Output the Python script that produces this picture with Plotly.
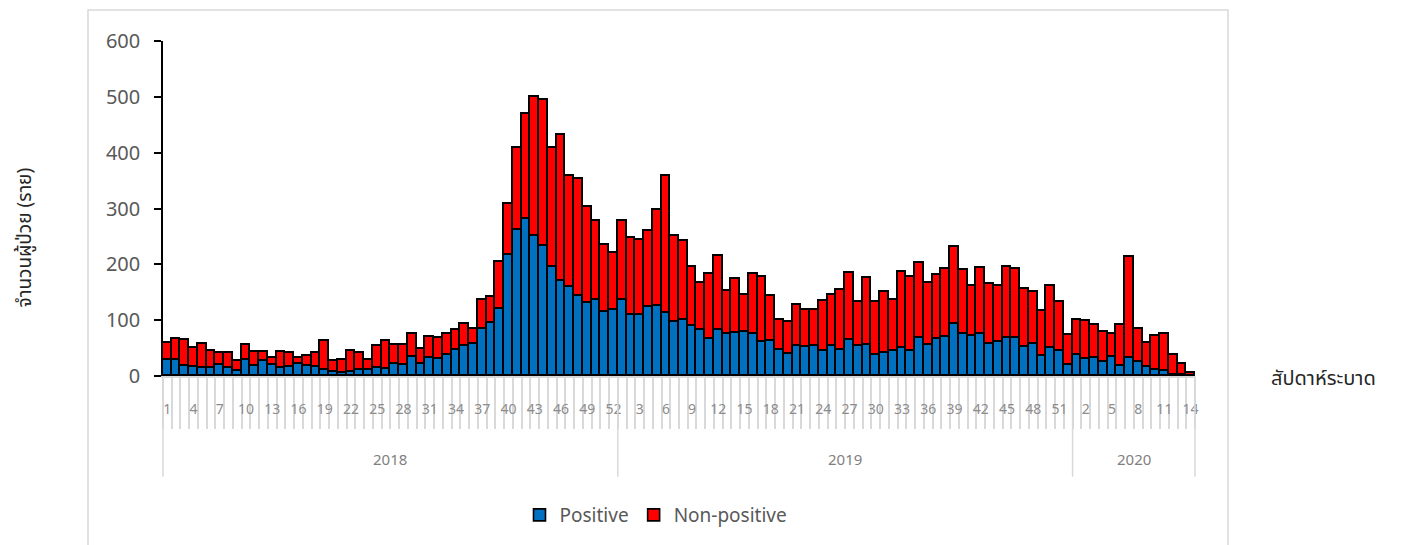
import plotly.graph_objects as go

years = ["2018", "2019", "2020"]
weeks_2018 = list(range(1, 53))
weeks_2019 = list(range(1, 53))
weeks_2020 = list(range(1, 15))

positive_2018 = [29, 29, 18, 17, 15, 14, 20, 15, 9, 28, 18, 27, 19, 15, 17, 22, 18, 17, 11, 8,
                 6, 8, 10, 10, 15, 12, 21, 20, 34, 21, 33, 30, 37, 47, 53, 58, 85, 95, 120, 217,
                 262, 282, 250, 232, 195, 171, 159, 143, 131, 136, 114, 118]
nonpositive_2018 = [31, 37, 47, 34, 42, 30, 21, 27, 17, 27, 25, 16, 13, 28, 24, 11, 18, 24, 51, 19,
                    23, 37, 32, 18, 39, 51, 34, 36, 41, 27, 37, 38, 39, 35, 41, 26, 52, 47, 85, 91,
                    147, 188, 249, 263, 213, 260, 199, 210, 171, 142, 121, 102]
positive_2019 = [136, 109, 109, 123, 126, 112, 97, 100, 89, 82, 66, 83, 76, 77, 79, 76, 61, 62, 46, 39,
                 54, 52, 53, 45, 53, 46, 64, 53, 55, 38, 41, 44, 51, 45, 68, 55, 66, 69, 94, 75,
                 71, 76, 58, 61, 68, 68, 52, 58, 36, 51, 45, 20]
nonpositive_2019 = [142, 138, 135, 137, 171, 247, 153, 142, 106, 84, 117, 132, 77, 96, 66, 106, 117, 82, 54, 58,
                    74, 67, 66, 90, 92, 108, 120, 80, 120, 94, 110, 92, 135, 133, 135, 112, 115, 123, 137, 115,
                    90, 117, 107, 100, 128, 123, 104, 93, 81, 110, 88, 54]
positive_2020 = [37, 31, 32, 25, 34, 18, 33, 25, 16, 10, 9, 2, 1, 0]
nonpositive_2020 = [63, 68, 60, 54, 42, 74, 180, 60, 44, 61, 67, 35, 20, 5]

y_ticks = [0, 100, 200, 300, 400, 500, 600]

week_groups = [weeks_2018, weeks_2019, weeks_2020]
weeks = weeks_2018 + weeks_2019 + weeks_2020
positive = positive_2018 + positive_2019 + positive_2020
nonpositive = nonpositive_2018 + nonpositive_2019 + nonpositive_2020
n = len(weeks)
xidx = list(range(n))

BLUE = "#0070C0"
RED = "#FF0000"
GRID = "#D9D9D9"
FONT = "Noto Sans, Open Sans, sans-serif"
THAI = "Noto Sans Thai, Noto Sans, sans-serif"

# page body has an 8px margin; plot area is kept at x 163..1195, y 41..377 in the window
PW, PH = 1032.0, 336.0
OX, OY = 163.0, 377.0

def pxx(x):
    return (x - OX) / PW

def pxy(y):
    return (OY - y) / PH

fig = go.Figure()
fig.add_trace(go.Bar(x=xidx, y=positive, name="Positive",
                     marker=dict(color=BLUE, line=dict(color="#000000", width=1.6))))
fig.add_trace(go.Bar(x=xidx, y=nonpositive, name="Non-positive",
                     marker=dict(color=RED, line=dict(color="#000000", width=1.6))))

# label every third week
tickvals = [i for i in xidx if i % 3 == 0]
ticktext = [str(weeks[i]) for i in tickvals]

shapes = []
annotations = []
start = 0
bounds = [0]
for yr, wk in zip(years, week_groups):
    end = start + len(wk)
    annotations.append(dict(x=(start + end) / 2 / n, y=pxy(460), xref="paper", yref="paper",
                            text=yr, showarrow=False, font=dict(size=15, color="#7F7F7F", family=FONT),
                            xanchor="center", yanchor="middle"))
    bounds.append(end)
    start = end
for b in bounds:
    shapes.append(dict(type="line", xref="paper", yref="paper", x0=b / n, x1=b / n,
                       y0=0, y1=pxy(478), line=dict(color=GRID, width=1.5)))

# outer frame
shapes.append(dict(type="rect", xref="paper", yref="paper", x0=pxx(88), x1=pxx(1228),
                   y0=pxy(600), y1=pxy(10), line=dict(color=GRID, width=1.5), layer="below"))

annotations.append(dict(x=pxx(25), y=pxy(238), xref="paper", yref="paper",
                        text="จำนวนผู้ป่วย (ราย)", textangle=-90, showarrow=False,
                        font=dict(size=19, color="#262626", family=THAI), xanchor="center", yanchor="middle"))
annotations.append(dict(x=pxx(1323), y=pxy(380), xref="paper", yref="paper",
                        text="สัปดาห์ระบาด", showarrow=False,
                        font=dict(size=20, color="#262626", family=THAI), xanchor="center", yanchor="middle"))

fig.update_layout(
    width=1394, height=537,
    margin=dict(l=155, r=207, t=33, b=168),
    barmode="stack", bargap=0,
    plot_bgcolor="white", paper_bgcolor="white",
    font=dict(family=FONT),
    showlegend=True,
    legend=dict(orientation="h", x=pxx(656), xanchor="center", y=pxy(515),
                yanchor="middle", font=dict(size=19, color="#595959", family=FONT), traceorder="normal"),
    xaxis=dict(range=[-0.5, n - 0.5], tickmode="array", tickvals=tickvals, ticktext=ticktext,
               ticks="", showline=True, linecolor=GRID, linewidth=1.5, showgrid=False, zeroline=False,
               tickfont=dict(size=14, color="#8C8C8C", family=FONT), ticklabelstandoff=19,
               minor=dict(tickmode="array", tickvals=[i - 0.5 for i in range(n + 1)], ticks="outside",
                          ticklen=51, tickcolor=GRID, tickwidth=1.5, showgrid=False),
               fixedrange=True),
    yaxis=dict(range=[0, 600], tickmode="array", tickvals=y_ticks, showline=True, linecolor="#000000",
               linewidth=1.5, ticks="outside", ticklen=7, tickcolor="#000000", tickwidth=1.5,
               showgrid=False, zeroline=False, tickfont=dict(size=20, color="#595959", family=FONT),
               ticklabelstandoff=10, fixedrange=True),
    shapes=shapes, annotations=annotations,
)

fig.write_html("out.html")
